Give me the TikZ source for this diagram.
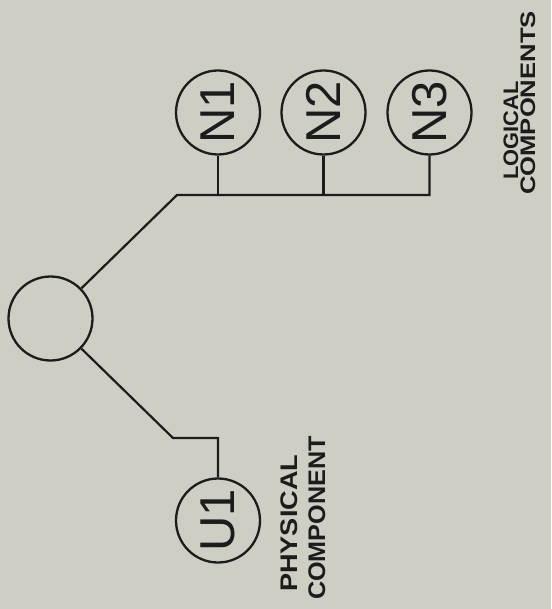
\documentclass[tikz,border=0pt]{standalone}
\usepackage{fontspec}
\setmainfont{Liberation Sans}
\definecolor{bg}{RGB}{206,206,197}
\definecolor{ink}{RGB}{28,28,28}
\begin{document}
\begin{tikzpicture}[x=1pt,y=-1pt,
  comp/.style={circle,draw=ink,line width=2.3pt,minimum size=84pt,inner sep=0pt,
    font=\fontsize{49}{49}\selectfont,text=ink},
  wire/.style={draw=ink,line width=2.2pt},
  lab/.style={rotate=90,anchor=base west,inner sep=0pt,text=ink}]
\fill[bg] (0,0) rectangle (551,609);
\useasboundingbox (0,0) rectangle (551,609);

\node[comp] (root) at (50.5,318.5) {};
\node[comp] (N1) at (218,112.5) {\rotatebox{90}{N1}};
\node[comp] (N2) at (323.5,112.5) {\rotatebox{90}{N2}};
\node[comp] (N3) at (429.5,112.5) {\rotatebox{90}{N3}};
\node[comp] (U1) at (218,520.5) {\rotatebox{90}{U1}};

\coordinate (b0) at (177,195);
\coordinate (c0) at (173,438);

\draw[wire] (root) -- (b0) -- (b0 -| N3.south) -- (N3.south);
\draw[wire] (N1.south) -- (N1.south |- b0);
\draw[wire] (N2.south) -- (N2.south |- b0);
\draw[wire] (root) -- (c0) -| (U1.north);

\node[lab,font=\bfseries\fontsize{24}{24}\selectfont] (phys) at (297,592) {\scalebox{1.13}[1]{PHYSICAL}};
\node[lab,font=\bfseries\fontsize{24}{24}\selectfont] (comp) at (325,600) {\scalebox{1.05}[1]{COMPONENT}};
\node[lab,font=\bfseries\fontsize{21}{21}\selectfont] (logi) at (518,180) {\scalebox{1.04}[1]{LOGICAL}};
\node[lab,font=\bfseries\fontsize{21}{21}\selectfont] (comps) at (535,195) {\scalebox{1.22}[1]{COMPONENTS}};
\end{tikzpicture}
\end{document}
